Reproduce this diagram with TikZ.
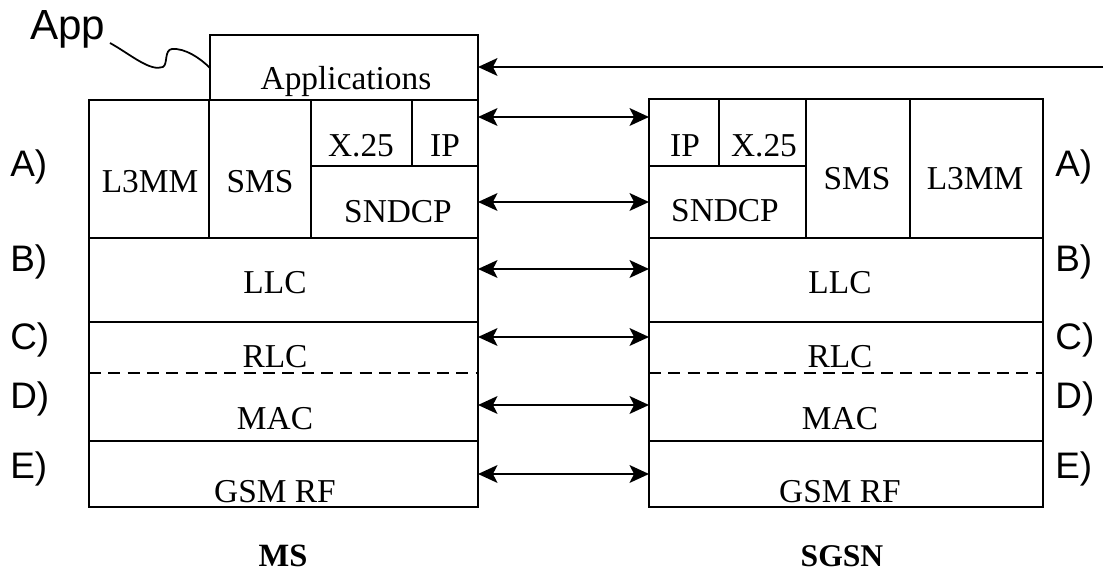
\documentclass[tikz,border=0pt]{standalone}
\usepackage{fontspec}
\setmainfont{Liberation Serif}
\newfontfamily\layerfont{Liberation Sans}
\usetikzlibrary{arrows.meta}

\newcommand{\stackbox}[5]{% name, left, top, right, bottom (pixels)
  \node[box,minimum width={(#4-#2)*0.02cm},minimum height={(#5-#3)*0.02cm}] (#1) at (#2,#3) {};}

\begin{document}
\begin{tikzpicture}[x=0.02cm,y=-0.02cm]
            \tikzstyle{box}=[draw=black,line width=1.5pt,inner sep=0pt,outer sep=0pt,anchor=north west]
            \tikzstyle{txt}=[anchor=base,inner sep=0pt,font=\fontsize{19}{19}\selectfont]
            \tikzstyle{tag}=[anchor=base west,inner sep=0pt,font=\layerfont\fontsize{21}{21}\selectfont]
            \tikzstyle{link}=[draw=black,line width=1.6pt,{Stealth[length=11pt,width=10pt,inset=2.5pt]}-{Stealth[length=11pt,width=10pt,inset=2.5pt]}]
            \tikzstyle{feed}=[draw=black,line width=1.6pt,-{Stealth[length=11pt,width=10pt,inset=2.5pt]}]
            \tikzstyle{split}=[draw=black,line width=1.5pt,dash pattern=on 6.8pt off 4.2pt]

            \useasboundingbox (0,0) rectangle (1105,573);

            % MS stack
            \stackbox{msAppl}{210}{35}{478}{100}
            \stackbox{msL3}{89}{100}{209}{238}
            \stackbox{msSMS}{209}{100}{311}{238}
            \stackbox{msX25}{311}{100}{412}{166}
            \stackbox{msIP}{412}{100}{478}{166}
            \stackbox{msSND}{311}{166}{478}{238}
            \stackbox{msLLC}{89}{238}{478}{322}
            \stackbox{msRM}{89}{322}{478}{441}
            \stackbox{msRF}{89}{441}{478}{507}

            % SGSN stack
            \stackbox{sgIP}{649}{99}{719}{166}
            \stackbox{sgX25}{719}{99}{806}{166}
            \stackbox{sgSND}{649}{166}{806}{238}
            \stackbox{sgSMS}{806}{99}{910}{238}
            \stackbox{sgL3}{910}{99}{1043}{238}
            \stackbox{sgLLC}{649}{238}{1043}{322}
            \stackbox{sgRM}{649}{322}{1043}{441}
            \stackbox{sgRF}{649}{441}{1043}{507}

            \path[split] (msRM.west |- 0,373) -- (msRM.east |- 0,373);
            \path[split] (sgRM.west |- 0,373) -- (sgRM.east |- 0,373);

            % texts
            \node[txt] (tAppl) at (346,90) {Applications};
            \node[txt] (tL3a)  at (150,193) {L3MM};
            \node[txt] (tSMSa) at (260,193) {SMS};
            \node[txt] (tX25a) at (361,157) {X.25};
            \node[txt] (tIPa)  at (445,157) {IP};
            \node[txt] (tSNDa) at (398,223) {SNDCP};
            \node[txt] (tLLCa) at (275,294) {LLC};
            \node[txt] (tRLCa) at (275,368) {RLC};
            \node[txt] (tMACa) at (275,430) {MAC};
            \node[txt] (tRFa)  at (275,503) {GSM RF};

            \node[txt] (tIPb)  at (685,157) {IP};
            \node[txt] (tX25b) at (764,157) {X.25};
            \node[txt] (tSNDb) at (725,222) {SNDCP};
            \node[txt] (tSMSb) at (857,190) {SMS};
            \node[txt] (tL3b)  at (975,190) {L3MM};
            \node[txt] (tLLCb) at (840,294) {LLC};
            \node[txt] (tRLCb) at (840,368) {RLC};
            \node[txt] (tMACb) at (840,430) {MAC};
            \node[txt] (tRFb)  at (840,503) {GSM RF};

            \node[txt,font=\bfseries\fontsize{18.5}{18.5}\selectfont] (ms)   at (283,567) {MS};
            \node[txt,font=\bfseries\fontsize{18}{18}\selectfont] (sgsn) at (842,567) {SGSN};

            % layer tags
            \node[tag] (la) at (10,177) {A)};
            \node[tag] (lb) at (10,272) {B)};
            \node[tag] (lc) at (10,350) {C)};
            \node[tag] (ld) at (10,409) {D)};
            \node[tag] (le) at (10,479) {E)};
            \node[tag] (ra) at (1055,177) {A)};
            \node[tag] (rb) at (1055,272) {B)};
            \node[tag] (rc) at (1055,350) {C)};
            \node[tag] (rd) at (1055,409) {D)};
            \node[tag] (re) at (1055,479) {E)};

            \node[tag,font=\layerfont\fontsize{24}{24}\selectfont] (app) at (30,40) {App};
            \coordinate (appEnd) at (110,43);
            \coordinate (appHit) at (210,68);
            \draw[line width=1pt] (appEnd) .. controls (130,54) and (150,72) .. (163,67)
                .. controls (168,64) and (164,50) .. (172,49)
                .. controls (185,48) and (200,58) .. (appHit);

            % peer links
            \coordinate (in) at (1103,67);
            \path[feed] (in) -- (msAppl.east |- in);
            \path[link] (msIP.east |- 0,117) -- (sgIP.west |- 0,117);
            \path[link] (msSND.east |- 0,202) -- (sgSND.west |- 0,202);
            \path[link] (msLLC.east |- 0,269) -- (sgLLC.west |- 0,269);
            \path[link] (msRM.east |- 0,337) -- (sgRM.west |- 0,337);
            \path[link] (msRM.east |- 0,405) -- (sgRM.west |- 0,405);
            \path[link] (msRF.east |- 0,474) -- (sgRF.west |- 0,474);
        \end{tikzpicture}
\end{document}
